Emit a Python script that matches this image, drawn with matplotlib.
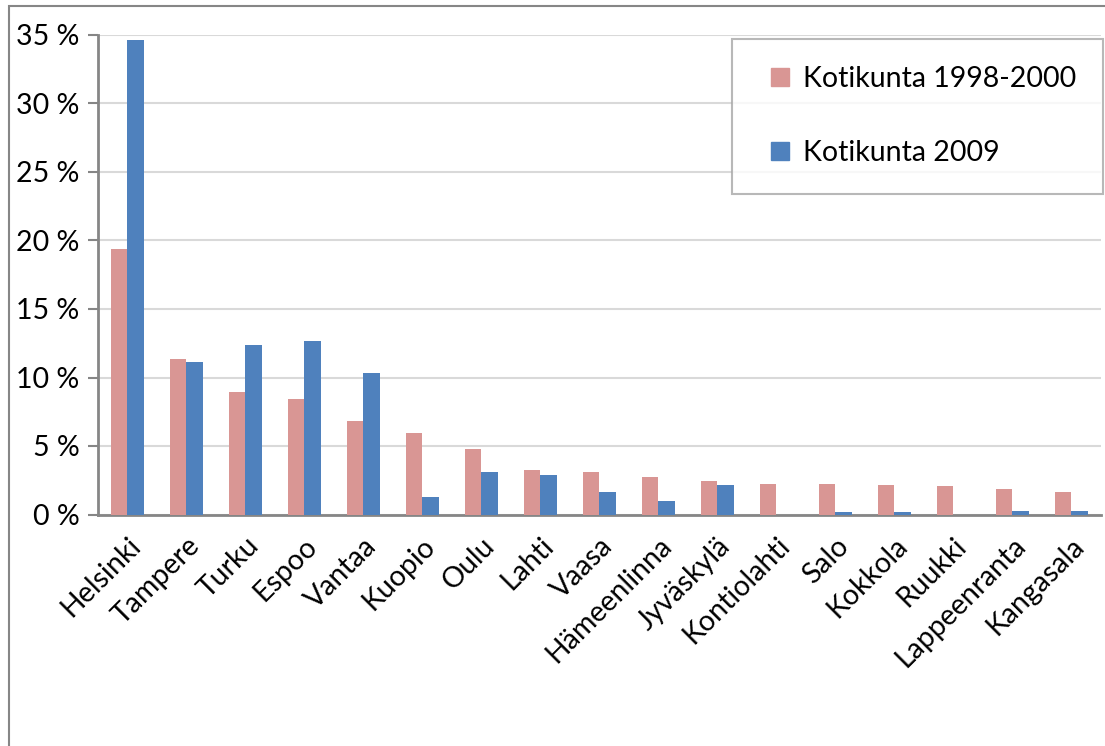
import matplotlib.pyplot as plt
import matplotlib.patches as patches
from matplotlib.lines import Line2D
import numpy as np

plt.rcParams['font.family'] = ['Lato', 'DejaVu Sans']

# kotikunnat ja osuudet (%)
kunnat = ['Helsinki', 'Tampere', 'Turku', 'Espoo', 'Vantaa', 'Kuopio', 'Oulu',
          'Lahti', 'Vaasa', 'Hämeenlinna', 'Jyväskylä', 'Kontiolahti', 'Salo',
          'Kokkola', 'Ruukki', 'Lappeenranta', 'Kangasala']
kotikunta_1998_2000 = [19.4, 11.35, 8.95, 8.4, 6.8, 5.95, 4.8, 3.25, 3.1, 2.75,
                       2.45, 2.25, 2.2, 2.15, 2.05, 1.85, 1.65]
kotikunta_2009 = [34.6, 11.15, 12.35, 12.65, 10.35, 1.25, 3.1, 2.85, 1.65, 0.95,
                  2.15, 0.0, 0.15, 0.15, 0.0, 0.28, 0.28]
yticks = [0, 5, 10, 15, 20, 25, 30, 35]
nimet = ['Kotikunta 1998-2000', 'Kotikunta 2009']

pinkki = '#D99694'
sininen = '#4F81BD'
harmaa = '#868686'
fs = 20.5

W, H = 1105, 746
fig = plt.figure(figsize=(W / 100, H / 100), dpi=100)

# ulkoreunus
fig.patches.append(patches.Rectangle((9 / W, -0.1), 1.2, 1 - 6 / H + 0.1,
                                     transform=fig.transFigure, fill=False,
                                     edgecolor=harmaa, linewidth=1.5))

ax = fig.add_axes([97.7 / W, 231.5 / H, 1003 / W, 479.5 / H])

x = np.arange(len(kunnat))
bw = 0.283
ax.bar(x - bw / 2, kotikunta_1998_2000, bw, color=pinkki, zorder=3)
ax.bar(x + bw / 2, kotikunta_2009, bw, color=sininen, zorder=3)

ax.set_xlim(-0.5, len(kunnat) - 0.5)
ax.set_ylim(0, 35)
ax.set_yticks(yticks)
ax.set_yticklabels(['%d %%' % v for v in yticks], fontsize=fs)
ax.yaxis.grid(True, color='#D9D9D9', linewidth=1.5, zorder=0)
ax.tick_params(axis='y', direction='out', length=7, width=1.5, color=harmaa, pad=6)

ax.set_xticks(x)
ax.set_xticklabels(kunnat, rotation=45, ha='right', va='top', rotation_mode='anchor', fontsize=fs)
ax.tick_params(axis='x', length=0, pad=13)

for s in ['top', 'right']:
    ax.spines[s].set_visible(False)
for s in ['left', 'bottom']:
    ax.spines[s].set_color(harmaa)
    ax.spines[s].set_linewidth(2)

kahvat = [Line2D([], [], linestyle='none', marker='s', markersize=13,
                 markerfacecolor=c, markeredgecolor=c) for c in [pinkki, sininen]]
leg = ax.legend(kahvat, nimet, loc='upper right', bbox_to_anchor=(1103 / W, 1 - 39 / H),
                bbox_transform=fig.transFigure, borderaxespad=0, fontsize=fs,
                frameon=True, fancybox=False, edgecolor='#A6A6A6',
                handlelength=1.5, handletextpad=0.05,
                labelspacing=1.7, borderpad=0.95)
leg.get_frame().set_linewidth(1.5)

fig.savefig('out.png', dpi=100)
